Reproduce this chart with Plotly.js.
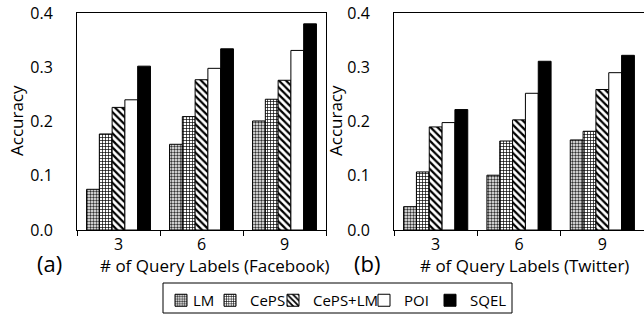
<!DOCTYPE html>
<html>
<head>
<meta charset="utf-8">
<script src="https://cdn.plot.ly/plotly-3.0.1.min.js"></script>
<style>html,body{margin:0;padding:0;background:#fff;}#chart{width:644px;height:320px;}
#chart .legendtext{transform:translateX(-8px);}</style>
</head>
<body>
<div id="chart"></div>
<script>
// Data
const categories = ["3", "6", "9"];
const seriesNames = ["LM", "CePS", "CePS+LM", "POI", "SQEL"];
const facebookLM = [0.075, 0.158, 0.201];
const facebookCePS = [0.177, 0.209, 0.241];
const facebookCePSLM = [0.226, 0.277, 0.276];
const facebookPOI = [0.240, 0.298, 0.331];
const facebookSQEL = [0.302, 0.334, 0.380];
const twitterLM = [0.043, 0.101, 0.166];
const twitterCePS = [0.107, 0.164, 0.182];
const twitterCePSLM = [0.190, 0.203, 0.259];
const twitterPOI = [0.198, 0.252, 0.290];
const twitterSQEL = [0.222, 0.311, 0.322];
const yTickVals = [0, 0.1, 0.2, 0.3, 0.4];
const yTickText = ["0.0", "0.1", "0.2", "0.3", "0.4"];

const FONT = "Open Sans, Noto Sans, sans-serif";

const styles = [
  {color: "#ffffff", pattern: {shape: ".", fgcolor: "#333", bgcolor: "#ffffff", size: 3, solidity: 0.5}},
  {color: "#ffffff", pattern: {shape: "+", fgcolor: "#000", bgcolor: "#ffffff", size: 3, solidity: 0.4}},
  {color: "#ffffff", pattern: {shape: "\\", fgcolor: "#000", bgcolor: "#ffffff", size: 5, solidity: 0.45}},
  {color: "#ffffff"},
  {color: "#000000"}
];

const fbData = [facebookLM, facebookCePS, facebookCePSLM, facebookPOI, facebookSQEL];
const twData = [twitterLM, twitterCePS, twitterCePSLM, twitterPOI, twitterSQEL];
const legendIds = ["legend", "legend2", "legend3", "legend4", "legend5"];

const traces = [];
fbData.forEach((vals, i) => {
  traces.push({
    type: "bar", x: categories, y: vals, name: seriesNames[i],
    xaxis: "x", yaxis: "y", legend: legendIds[i], showlegend: true,
    marker: Object.assign({line: {color: "#000", width: 1}}, styles[i])
  });
});
twData.forEach((vals, i) => {
  traces.push({
    type: "bar", x: categories, y: vals, name: seriesNames[i],
    xaxis: "x2", yaxis: "y2", showlegend: false,
    marker: Object.assign({line: {color: "#000", width: 1}}, styles[i])
  });
});

const W = 644, H = 320;
const px = v => v / W;
const py = v => (H - v) / H;

const xaxisBase = {
  type: "category", showline: true, linecolor: "#000", linewidth: 1, mirror: true,
  ticks: "outside", ticklen: 5, tickcolor: "#000", tickson: "boundaries",
  showgrid: false, zeroline: false, tickfont: {family: FONT, size: 16, color: "#000"},
  fixedrange: true
};
const yaxisBase = {
  range: [0, 0.4], tickvals: yTickVals, ticktext: yTickText, showline: true, linecolor: "#000",
  linewidth: 1, ticks: "", showgrid: false, zeroline: false, ticklabelstandoff: 20,
  tickfont: {family: FONT, size: 16, color: "#000"}, fixedrange: true
};

// legend swatch centre positions (px)
const legendSwatchX = [183, 232, 295, 386, 452];

const layout = {
  width: W, height: H,
  margin: {l: 0, r: 0, t: 0, b: 0},
  paper_bgcolor: "#fff", plot_bgcolor: "#fff",
  barmode: "group", bargap: 0.23, bargroupgap: 0,
  font: {family: FONT, color: "#000"},
  xaxis: Object.assign({}, xaxisBase, {domain: [px(77), px(326)], anchor: "y"}),
  yaxis: Object.assign({}, yaxisBase, {domain: [py(230), py(13)], anchor: "x", mirror: true}),
  xaxis2: Object.assign({}, xaxisBase, {domain: [px(394), 1], anchor: "y2"}),
  yaxis2: Object.assign({}, yaxisBase, {domain: [py(230), py(13)], anchor: "x2", mirror: false}),
  shapes: [
    {type: "rect", xref: "paper", yref: "paper", x0: px(163), x1: px(512), y0: py(313), y1: py(283),
     line: {color: "#000", width: 1}, fillcolor: "rgba(0,0,0,0)", layer: "below"}
  ],
  annotations: [
    {text: "# of Query Labels (Facebook)", x: px(215), y: py(265), xanchor: "center", yanchor: "middle",
     xref: "paper", yref: "paper", showarrow: false, font: {family: FONT, size: 17, color: "#000"}},
    {text: "# of Query Labels (Twitter)", x: px(524), y: py(265), xanchor: "center", yanchor: "middle",
     xref: "paper", yref: "paper", showarrow: false, font: {family: FONT, size: 17, color: "#000"}},
    {text: "Accuracy", x: px(16), y: py(121), xanchor: "center", yanchor: "middle", xref: "paper", yref: "paper",
     textangle: -90, showarrow: false, font: {family: FONT, size: 17, color: "#000"}},
    {text: "Accuracy", x: px(335), y: py(121), xanchor: "center", yanchor: "middle", xref: "paper", yref: "paper",
     textangle: -90, showarrow: false, font: {family: FONT, size: 17, color: "#000"}},
    {text: "(a)", x: px(50), y: py(263), xanchor: "center", yanchor: "middle", xref: "paper", yref: "paper",
     showarrow: false, font: {family: FONT, size: 22, color: "#000"}},
    {text: "(b)", x: px(367), y: py(263), xanchor: "center", yanchor: "middle", xref: "paper", yref: "paper",
     showarrow: false, font: {family: FONT, size: 22, color: "#000"}}
  ]
};

legendIds.forEach((id, i) => {
  layout[id] = {
    orientation: "h", x: px(legendSwatchX[i] - 22), xanchor: "left", y: py(284), yanchor: "top",
    borderwidth: 0, bgcolor: "rgba(0,0,0,0)", itemwidth: 30,
    font: {family: FONT, size: 15, color: "#000"}
  };
});

Plotly.newPlot("chart", traces, layout, {staticPlot: true, displayModeBar: false});
</script>
</body>
</html>
